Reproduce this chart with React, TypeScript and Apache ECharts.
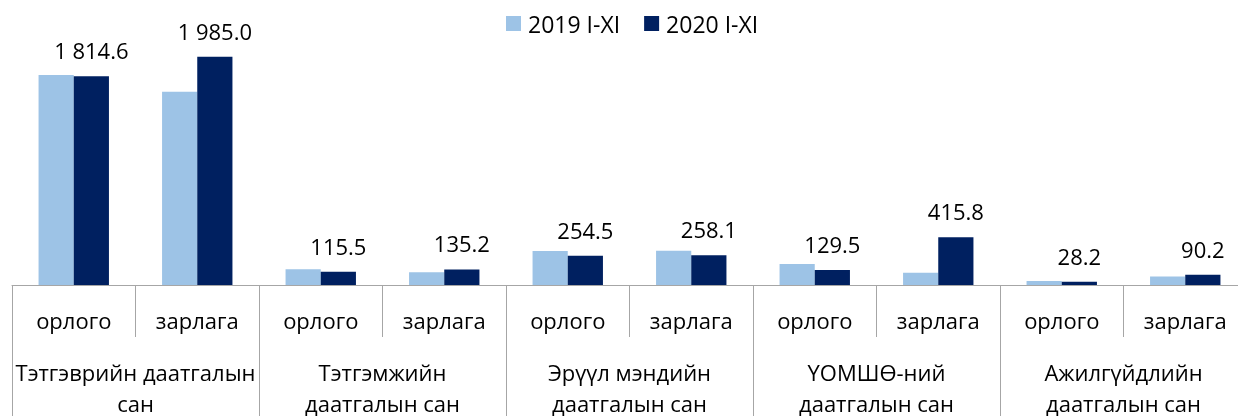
import React, { useEffect, useRef } from "react";
import * as echarts from "echarts";

const categories = ["орлого", "зарлага", "орлого", "зарлага", "орлого", "зарлага", "орлого", "зарлага", "орлого", "зарлага"];
const groups = [
  "Тэтгэврийн даатгалын\nсан",
  "Тэтгэмжийн\nдаатгалын сан",
  "Эрүүл мэндийн\nдаатгалын сан",
  "ҮОМШӨ-ний\nдаатгалын сан",
  "Ажилгүйдлийн\nдаатгалын сан",
];
const seriesNames = ["2019 I-XI", "2020 I-XI"];
const values2019 = [1826, 1681, 136, 110, 296, 297, 183, 107, 35, 75];
const values2020 = [1814.6, 1985.0, 115.5, 135.2, 254.5, 258.1, 129.5, 415.8, 28.2, 90.2];

const FONT = "'Open Sans', sans-serif";
const AXIS_COLOR = "#a6a6a6";

function fmt(v: number): string {
  const [i, d] = v.toFixed(1).split(".");
  return i.replace(/\B(?=(\d{3})+(?!\d))/g, " ") + "." + d;
}

export default function App() {
  const ref = useRef<HTMLDivElement>(null);
  useEffect(() => {
    if (!ref.current) return;
    const chart = echarts.init(ref.current, null, { renderer: "svg" });
    chart.setOption({
      animation: false,
      textStyle: { fontFamily: FONT },
      legend: {
        data: seriesNames,
        left: 506,
        top: 12,
        padding: 0,
        itemWidth: 15,
        itemHeight: 15,
        itemGap: 24,
        icon: "rect",
        textStyle: { fontFamily: FONT, fontSize: 23, color: "#000", padding: [0, 0, 0, 2] },
      },
      grid: { left: 12, right: -9, top: 9, bottom: 131, containLabel: false, outerBoundsMode: "none" },
      xAxis: [
        {
          type: "category",
          data: categories,
          position: "bottom",
          axisLine: { show: true, lineStyle: { color: AXIS_COLOR, width: 1 } },
          axisTick: { show: true, length: 52, interval: 0, lineStyle: { color: AXIS_COLOR, width: 1 } },
          axisLabel: { interval: 0, margin: 24, fontSize: 22, color: "#000", fontFamily: FONT },
        },
        {
          type: "category",
          data: groups,
          position: "bottom",
          axisLine: { show: false },
          axisTick: { show: true, length: 140, interval: 0, lineStyle: { color: AXIS_COLOR, width: 1 } },
          axisLabel: { interval: 0, margin: 71, fontSize: 22, lineHeight: 31, color: "#000", fontFamily: FONT, align: "center" },
        },
      ],
      yAxis: { type: "value", min: 0, max: 2400, show: false, splitLine: { show: false } },
      series: [
        {
          name: seriesNames[0],
          type: "bar",
          data: values2019,
          xAxisIndex: 0,
          barGap: "0%",
          barCategoryGap: "43%",
          itemStyle: { color: "#9dc3e6" },
        },
        {
          name: seriesNames[1],
          type: "bar",
          data: values2020,
          xAxisIndex: 0,
          barGap: "0%",
          barCategoryGap: "43%",
          itemStyle: { color: "#002060" },
          label: {
            show: true,
            position: "top",
            distance: 15,
            fontSize: 22,
            color: "#000",
            fontFamily: FONT,
            formatter: (p: any) => fmt(p.value),
          },
        },
      ],
    });
    return () => chart.dispose();
  }, []);
  return <div ref={ref} style={{ position: "fixed", left: 0, top: 0, width: 1238, height: 416 }} />;
}
